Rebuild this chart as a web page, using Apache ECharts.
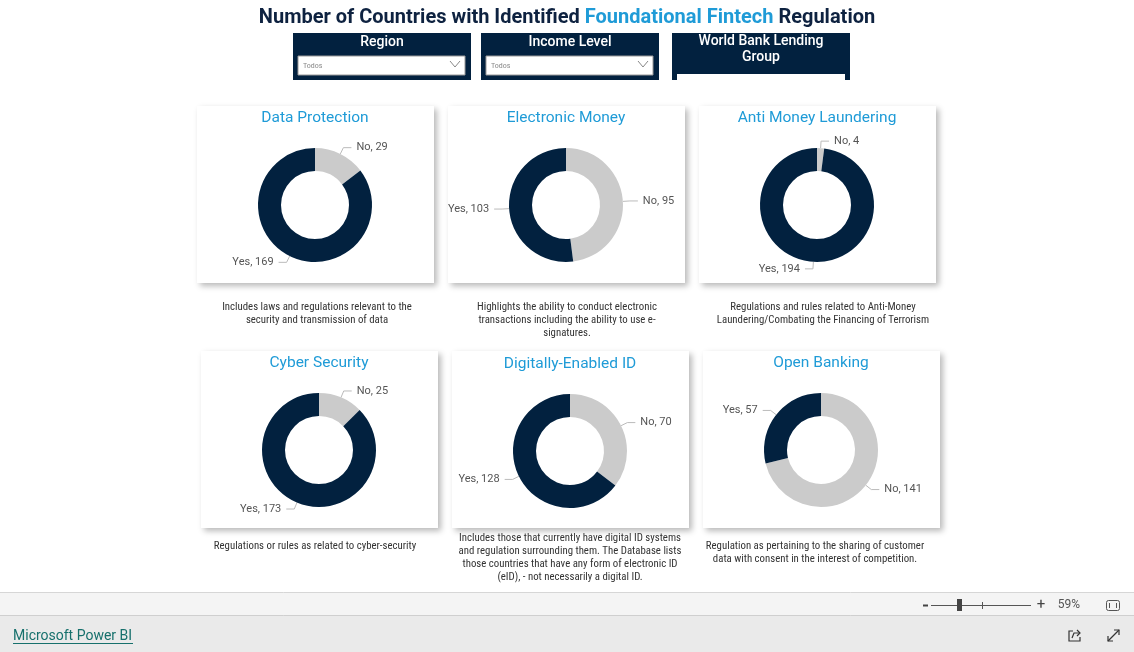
<!DOCTYPE html>
<html>
<head>
<meta charset="utf-8">
<script src="https://cdn.jsdelivr.net/npm/echarts@6/dist/echarts.min.js"></script>
<style>
html,body{margin:0;padding:0;background:#fff;}
#c{width:1134px;height:652px;}
</style>
</head>
<body>
<div id="c"></div>
<script>
// ---- Data ----
const chartTitles = ['Data Protection','Electronic Money','Anti Money Laundering','Cyber Security','Digitally-Enabled ID','Open Banking'];
const yesValues = [169, 103, 194, 173, 128, 57];
const noValues  = [29, 95, 4, 25, 70, 141];
const categories = ['No','Yes'];
const descriptions = [
  'Includes laws and regulations relevant to the\nsecurity and transmission of data',
  'Highlights the ability to conduct electronic\ntransactions including the ability to use e-\nsignatures.',
  'Regulations and rules related to Anti-Money\nLaundering/Combating the Financing of Terrorism',
  'Regulations or rules as related to cyber-security',
  'Includes those that currently have digital ID systems\nand regulation surrounding them. The Database lists\nthose countries that have any form of electronic ID\n(eID), - not necessarily a digital ID.',
  'Regulation as pertaining to the sharing of customer\ndata with consent in the interest of competition.'
];
const filterLabels = ['Region','Income Level','World Bank Lending\nGroup'];
const filterValue = 'Todos';

// ---- Layout ----
const NAVY = '#02213f';
const BLUE = '#1f9bd7';
const GREY = '#cbcbcb';
const cards = [
  {x:197,y:106,cx:315,cy:205,tx:315,ty:117,dx:317,dy:307},
  {x:448,y:106,cx:566,cy:205,tx:566,ty:117,dx:567,dy:307},
  {x:699,y:106,cx:817,cy:205,tx:817,ty:117,dx:823,dy:307},
  {x:201,y:351,cx:319,cy:450,tx:319,ty:362,dx:315,dy:546},
  {x:452,y:351,cx:570,cy:451,tx:570,ty:363,dx:570,dy:538},
  {x:703,y:351,cx:821,cy:450,tx:821,ty:362,dx:815,dy:546}
];
const CW = 237, CH = 177;
const FONT = '"Liberation Sans Narrow","Roboto Condensed",Roboto,"Noto Sans",sans-serif';
const TFONT = 'Roboto,"Noto Sans",sans-serif';

const graphic = [];
// cards
cards.forEach((c,i)=>{
  graphic.push({type:'rect',shape:{x:c.x,y:c.y,width:CW,height:CH},
    style:{fill:'#fff',shadowBlur:6,shadowOffsetX:3,shadowOffsetY:3,shadowColor:'rgba(0,0,0,0.28)'},z:0});
  graphic.push({type:'text',x:c.tx,y:c.ty+1,z:5,style:{text:chartTitles[i],fill:BLUE,font:'15.5px '+TFONT,align:'center',verticalAlign:'middle'}});
  graphic.push({type:'text',x:c.dx,y:c.dy-6.5,z:5,style:{text:descriptions[i],fill:'#333',font:'10.8px '+FONT,align:'center',verticalAlign:'top',lineHeight:13}});
});
// main title
graphic.push({type:'text',x:567,y:18,z:5,style:{
  text:'{a|Number of Countries with Identified }{b|Foundational Fintech}{a| Regulation}',
  align:'center',verticalAlign:'middle',
  rich:{a:{fill:'#0e2240',font:'bold 20px '+TFONT},b:{fill:BLUE,font:'bold 20px '+TFONT}}}});
// filters
const fx = [293,481,672];
filterLabels.forEach((lab,i)=>{
  const x = fx[i];
  graphic.push({type:'rect',shape:{x:x,y:33,width:178,height:47},style:{fill:NAVY},z:1});
  graphic.push({type:'text',x:x+89,y:i===2?33:34,z:5,style:{text:lab,fill:'#fff',font:'500 14px '+TFONT,align:'center',verticalAlign:'top',lineHeight:16}});
  if(i<2){
    graphic.push({type:'rect',shape:{x:x+5,y:56,width:167,height:19},style:{fill:'#fff',stroke:'#999',lineWidth:1},z:2});
    graphic.push({type:'text',x:x+10,y:66,z:5,style:{text:filterValue,fill:'#8a8a8a',font:'8px '+FONT,verticalAlign:'middle'}});
    graphic.push({type:'polyline',shape:{points:[[x+157,61],[x+162,67],[x+167,61]]},style:{stroke:'#888',lineWidth:1,fill:null},z:5});
  } else {
    graphic.push({type:'rect',shape:{x:x+5,y:74,width:168,height:6},style:{fill:'#fff'},z:2});
  }
});
// bottom bars
graphic.push({type:'rect',shape:{x:0,y:592,width:1134,height:23},style:{fill:'#f4f4f4'},z:1});
graphic.push({type:'line',shape:{x1:0,y1:592.5,x2:1134,y2:592.5},style:{stroke:'#d6d6d6',lineWidth:1},z:2});
graphic.push({type:'rect',shape:{x:0,y:615,width:1134,height:37},style:{fill:'#eaeaea'},z:1});
graphic.push({type:'line',shape:{x1:0,y1:615.5,x2:1134,y2:615.5},style:{stroke:'#cfcfcf',lineWidth:1},z:2});
// zoom slider
graphic.push({type:'line',shape:{x1:923,y1:605.5,x2:928,y2:605.5},style:{stroke:'#444',lineWidth:2},z:3});
graphic.push({type:'line',shape:{x1:931,y1:605.5,x2:1031,y2:605.5},style:{stroke:'#555',lineWidth:1},z:3});
graphic.push({type:'rect',shape:{x:957,y:599,width:5,height:12},style:{fill:'#444'},z:4});
graphic.push({type:'line',shape:{x1:982.5,y1:602,x2:982.5,y2:609},style:{stroke:'#555',lineWidth:1},z:3});
graphic.push({type:'text',x:1041,y:605,z:4,style:{text:'+',fill:'#444',font:'15px '+TFONT,align:'center',verticalAlign:'middle'}});
graphic.push({type:'text',x:1069,y:605,z:4,style:{text:'59%',fill:'#555',font:'12px '+TFONT,align:'center',verticalAlign:'middle'}});
graphic.push({type:'rect',shape:{x:1106.5,y:600.5,width:13,height:10,r:2},style:{fill:null,stroke:'#555',lineWidth:1},z:4});
graphic.push({type:'line',shape:{x1:1109.5,y1:603,x2:1109.5,y2:608},style:{stroke:'#555',lineWidth:1},z:4});
graphic.push({type:'line',shape:{x1:1116.5,y1:603,x2:1116.5,y2:608},style:{stroke:'#555',lineWidth:1},z:4});
// Power BI link
graphic.push({type:'text',x:13,y:636,z:4,style:{text:'Microsoft Power BI',fill:'#16706c',font:'14px '+TFONT,verticalAlign:'middle'}});
graphic.push({type:'line',shape:{x1:13,y1:643.5,x2:133,y2:643.5},style:{stroke:'#16706c',lineWidth:1},z:4});
// share icon
graphic.push({type:'polyline',shape:{points:[[1073,631],[1069,631],[1069,641],[1080,641],[1080,637]]},style:{stroke:'#333',lineWidth:1.2,fill:null},z:4});
graphic.push({type:'polyline',shape:{points:[[1072,638],[1074,633],[1080,633]]},style:{stroke:'#333',lineWidth:1.2,fill:null},z:4});
graphic.push({type:'polyline',shape:{points:[[1077,630],[1080,633],[1077,636]]},style:{stroke:'#333',lineWidth:1.2,fill:null},z:4});
// expand icon
graphic.push({type:'line',shape:{x1:1108,y1:641,x2:1119,y2:630},style:{stroke:'#333',lineWidth:1.2},z:4});
graphic.push({type:'polyline',shape:{points:[[1108,636],[1108,641],[1113,641]]},style:{stroke:'#333',lineWidth:1.2,fill:null},z:4});
graphic.push({type:'polyline',shape:{points:[[1114,630],[1119,630],[1119,635]]},style:{stroke:'#333',lineWidth:1.2,fill:null},z:4});

const series = cards.map((c,i)=>({
  type:'pie',
  center:[c.cx,c.cy],
  radius:[34,57],
  startAngle:90,
  clockwise:true,
  silent:true,
  animation:false,
  z:10,
  label:{show:true,position:'outside',formatter:'{b}, {c}',color:'#555',fontSize:11,fontFamily:TFONT},
  labelLine:{show:true,length:7,length2:8,lineStyle:{color:'#bbb',width:1}},
  data:[
    {name:categories[0],value:noValues[i],itemStyle:{color:GREY}},
    {name:categories[1],value:yesValues[i],itemStyle:{color:NAVY}}
  ]
}));

const chart = echarts.init(document.getElementById('c'),null,{renderer:'canvas'});
chart.setOption({backgroundColor:'#fff',animation:false,graphic:{elements:graphic},series:series});
</script>
</body>
</html>
